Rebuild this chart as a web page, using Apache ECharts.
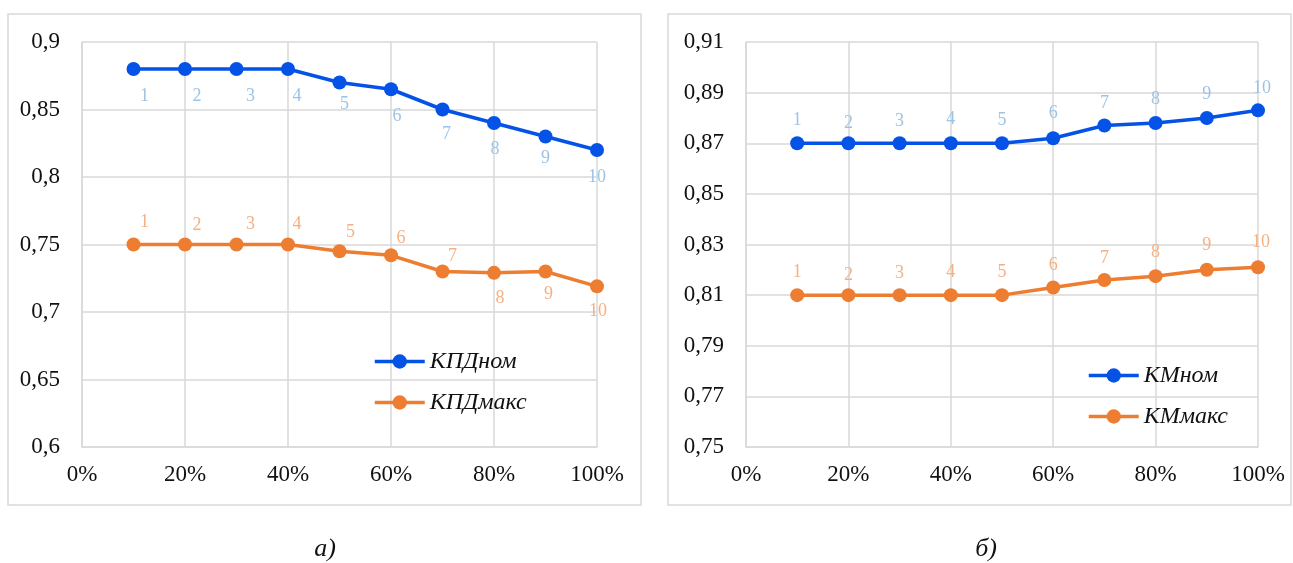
<!DOCTYPE html>
<html>
<head>
<meta charset="utf-8">
<script src="https://cdn.jsdelivr.net/npm/echarts@6/dist/echarts.min.js"></script>
<style>
  html, body { margin: 0; padding: 0; background: #ffffff; }
  #chart { width: 1293px; height: 563px; }
</style>
</head>
<body>
<div id="chart"></div>
<script>
// Load share of each operating point (x axis)
const loadShare = [0.1, 0.2, 0.3, 0.4, 0.5, 0.6, 0.7, 0.8, 0.9, 1.0];
const pointNo = ['1', '2', '3', '4', '5', '6', '7', '8', '9', '10'];

// Panel а) efficiency
const kpdNom  = [0.88, 0.88, 0.88, 0.88, 0.87, 0.865, 0.85, 0.84, 0.83, 0.82];
const kpdMaks = [0.75, 0.75, 0.75, 0.75, 0.745, 0.742, 0.73, 0.729, 0.73, 0.719];

// Panel б) power factor
const kmNom  = [0.87, 0.87, 0.87, 0.87, 0.87, 0.872, 0.877, 0.878, 0.88, 0.883];
const kmMaks = [0.81, 0.81, 0.81, 0.81, 0.81, 0.813, 0.816, 0.8175, 0.82, 0.821];

// Tick labels
const xTickLabels  = ['0%', '20%', '40%', '60%', '80%', '100%'];
const yTickLabelsA = ['0,6', '0,65', '0,7', '0,75', '0,8', '0,85', '0,9'];
const yTickLabelsB = ['0,75', '0,77', '0,79', '0,81', '0,83', '0,85', '0,87', '0,89', '0,91'];

const BLUE = '#0552e6', ORANGE = '#ed7d31';
const BLUE_LBL = '#9dc3e6', ORANGE_LBL = '#f4b183';
const GRID = '#d9d9d9';
const SERIF = '"Liberation Serif", "DejaVu Serif", serif';

// label offsets from the marker centre, per point
const shiftNomA  = [[11,27],[12,27],[14,27],[9,27],[5,22],[6,27],[4,25],[1,26],[0,22],[0,27]];
const shiftMaksA = [[11,-22],[12,-19],[14,-20],[9,-20],[11,-19],[10,-17],[10,-15],[6,25],[3,23],[1,25]];
const shiftNomB  = [[0,-23],[0,-20],[0,-22],[0,-24],[0,-23],[0,-25],[0,-22],[0,-24],[0,-24],[4,-22]];
const shiftMaksB = [[0,-23],[0,-20],[0,-22],[0,-23],[0,-23],[0,-22],[0,-22],[0,-24],[0,-25],[3,-25]];

function pts(vals) {
  return vals.map((v, i) => [loadShare[i], v]);
}

function lineSeries(name, vals, color, lblColor, axis, shifts) {
  return {
    name: name,
    type: 'line',
    xAxisIndex: axis,
    yAxisIndex: axis,
    data: pts(vals).map((p, i) => ({ value: p, label: { offset: shifts[i] } })),
    symbol: 'circle',
    symbolSize: 14,
    lineStyle: { color: color, width: 3.5 },
    itemStyle: { color: color },
    label: {
      show: true,
      position: 'inside',
      formatter: p => pointNo[p.dataIndex],
      color: lblColor,
      fontFamily: SERIF,
      fontSize: 18
    },
    z: 3
  };
}

function xAxis(gridIndex) {
  return {
    type: 'value', gridIndex: gridIndex,
    min: 0, max: 1, interval: 0.2,
    axisLine: { show: true, lineStyle: { color: GRID, width: 1.5 } },
    axisTick: { show: false },
    splitLine: { show: true, lineStyle: { color: GRID, width: 1.5 } },
    axisLabel: {
      formatter: (v, i) => xTickLabels[i],
      color: '#111', fontFamily: SERIF, fontSize: 23, margin: 16
    }
  };
}

function yAxis(gridIndex, min, max, interval, labels) {
  return {
    type: 'value', gridIndex: gridIndex,
    min: min, max: max, interval: interval,
    axisLine: { show: true, lineStyle: { color: GRID, width: 1.5 } },
    axisTick: { show: false },
    splitLine: { show: true, lineStyle: { color: GRID, width: 1.5 } },
    axisLabel: {
      formatter: (v, i) => labels[i],
      color: '#111', fontFamily: SERIF, fontSize: 23, margin: 22
    }
  };
}

function legend(names, left, top) {
  return {
    data: names, orient: 'vertical', left: left, top: top,
    itemWidth: 50, itemHeight: 18, itemGap: 16,
    lineStyle: { width: 3.5 },
    textStyle: { fontFamily: SERIF, fontStyle: 'italic', fontSize: 24, color: '#111', lineHeight: 25 },
    selectedMode: false
  };
}

const chart = echarts.init(document.getElementById('chart'), null, { renderer: 'canvas' });
chart.setOption({
  animation: false,
  backgroundColor: '#ffffff',
  grid: [
    { left: 82, top: 42, width: 515, height: 405 },
    { left: 746, top: 42, width: 512, height: 405 }
  ],
  xAxis: [xAxis(0), xAxis(1)],
  yAxis: [
    yAxis(0, 0.6, 0.9, 0.05, yTickLabelsA),
    yAxis(1, 0.75, 0.91, 0.02, yTickLabelsB)
  ],
  legend: [
    legend(['КПДном', 'КПДмакс'], 368, 344),
    legend(['КМном', 'КМмакс'], 1082, 358)
  ],
  series: [
    lineSeries('КПДном', kpdNom, BLUE, BLUE_LBL, 0, shiftNomA),
    lineSeries('КПДмакс', kpdMaks, ORANGE, ORANGE_LBL, 0, shiftMaksA),
    lineSeries('КМном', kmNom, BLUE, BLUE_LBL, 1, shiftNomB),
    lineSeries('КМмакс', kmMaks, ORANGE, ORANGE_LBL, 1, shiftMaksB)
  ],
  graphic: [
    { type: 'rect', shape: { x: 8, y: 14, width: 633, height: 491 },
      style: { fill: 'none', stroke: GRID, lineWidth: 1.5 }, silent: true, z: -1 },
    { type: 'rect', shape: { x: 668, y: 14, width: 623, height: 491 },
      style: { fill: 'none', stroke: GRID, lineWidth: 1.5 }, silent: true, z: -1 },
    { type: 'text', x: 325, y: 549,
      style: { text: 'а)', fontFamily: SERIF, fontStyle: 'italic', fontSize: 26, fill: '#111',
               textAlign: 'center', textVerticalAlign: 'middle' } },
    { type: 'text', x: 986, y: 549,
      style: { text: 'б)', fontFamily: SERIF, fontStyle: 'italic', fontSize: 26, fill: '#111',
               textAlign: 'center', textVerticalAlign: 'middle' } }
  ]
});
</script>
</body>
</html>
